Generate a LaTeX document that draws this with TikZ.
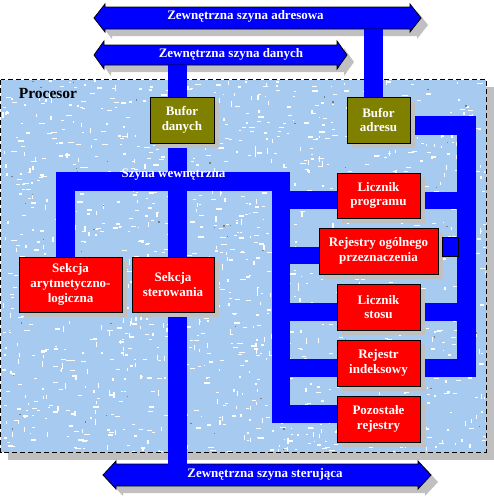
\documentclass[tikz,border=0pt]{standalone}
\usepackage{fontspec}
\setmainfont{Liberation Serif}
\usetikzlibrary{shadows}
\definecolor{busblue}{HTML}{0000FF}
\definecolor{boxred}{HTML}{FF0000}
\definecolor{olivebox}{HTML}{808000}
\definecolor{shadowgray}{HTML}{C0C0C0}
\definecolor{procbg}{HTML}{A6CAF0}
\pgfdeclarelayer{bglayer}
\pgfdeclarelayer{buslayer}
\pgfsetlayers{bglayer,buslayer,main}
\newcommand\arrowshape[5]{(#1,#3) -- (#1+#4,#3-14) -- (#1+#4,#3-#5) -- (#2-#4,#3-#5) -- (#2-#4,#3-14) -- (#2,#3) -- (#2-#4,#3+14) -- (#2-#4,#3+#5) -- (#1+#4,#3+#5) -- (#1+#4,#3+14) -- cycle}
\tikzset{
  bus/.style={draw=busblue, line width=18.5pt, line join=miter},
  busarrow/.style={fill=busblue, draw=black, line width=0.8pt, line join=miter},
  arrowshadow/.style={fill=shadowgray, shift={(7,7)}},
  bustext/.style={text=white, font=\bfseries\fontsize{13}{15}\selectfont, inner sep=0pt},
  boxbase/.style={draw=black, line width=0.7pt, text=white, align=center, inner sep=0pt,
    font=\bfseries\fontsize{13}{14.8}\selectfont,
    drop shadow={shadow xshift=5pt, shadow yshift=-5pt, fill=shadowgray, opacity=1}},
  regbox/.style={boxbase, fill=boxred},
  bufbox/.style={boxbase, fill=olivebox},
}
\begin{document}
\begin{tikzpicture}[x=1pt,y=-1pt]
\begin{pgfonlayer}{bglayer}
\useasboundingbox[fill=white] (0,0) rectangle (494,501);
% processor
\fill[shadowgray] (8,87) rectangle (494,460);
\filldraw[fill=procbg, draw=black, line width=0.8pt, dash pattern=on 5pt off 3pt] (0.5,79.5) rectangle (486,452);
\begin{scope}
\clip (1,80) rectangle (485.5,451.5);
\pgfmathsetseed{7}
\foreach \i in {1,...,1500}{
  \pgfmathsetmacro\rx{2+484*rnd}
  \pgfmathsetmacro\ry{80+372*rnd}
  \pgfmathsetmacro\rl{1.5+4.5*rnd}
  \pgfmathsetmacro\rv{rnd}
  \ifdim\rv pt<0.7pt
    \fill[white] (\rx,\ry) rectangle ++(\rl,1.3);
  \else
    \fill[white] (\rx,\ry) rectangle ++(1.3,\rl);
  \fi
}
\foreach \i in {1,...,80}{
  \pgfmathsetmacro\rx{2+484*rnd}
  \pgfmathsetmacro\ry{80+372*rnd}
  \fill[gray] (\rx,\ry) rectangle ++(1.3,1.3);
}
\end{scope}
% external bus arrows
\fill[arrowshadow] \arrowshape{94}{421}{18}{11}{11};
\fill[arrowshadow] \arrowshape{94}{347}{55}{10}{10};
\fill[arrowshadow] \arrowshape{103}{431}{475}{13}{11};
\filldraw[busarrow] \arrowshape{94}{421}{18}{11}{11};
\filldraw[busarrow] \arrowshape{94}{347}{55}{10}{10};
\filldraw[busarrow] \arrowshape{103}{431}{475}{13}{11};
\end{pgfonlayer}
\node[font=\bfseries\fontsize{15.5}{17}\selectfont, inner sep=0pt] (proclabel) at (48,93) {Procesor};
\node[bustext] (addrlabel) at (245.5,16) {Zewnętrzna szyna adresowa};
\node[bustext] (datalabel) at (231,54) {Zewnętrzna szyna danych};
\node[bustext] (sterlabel) at (265,474.5) {Zewnętrzna szyna sterująca};
% bus coordinates
\coordinate (atop) at (373.5,28.5);
\coordinate (dtop) at (177.5,64.5);
\coordinate (dbot) at (177.5,464.5);
\coordinate (rA) at (466.5,125.5);
\coordinate (rB) at (466.5,368);
\coordinate (iA) at (65.5,181.5);
\coordinate (iB) at (281,181.5);
\coordinate (iC) at (281,414);
% boxes
\node[bufbox, minimum width=64pt, minimum height=46pt] (bufd) at (182,120) {Bufor\\danych};
\node[bufbox, minimum width=63pt, minimum height=46pt] (bufa) at (378.5,120) {Bufor\\adresu};
\node[regbox, minimum width=83pt, minimum height=45pt] (lp) at (378.5,195.5) {Licznik\\programu};
\node[regbox, minimum width=119pt, minimum height=46pt] (rog) at (378.5,251) {Rejestry ogólnego\\przeznaczenia};
\node[regbox, minimum width=83pt, minimum height=46pt] (ls) at (378.5,307) {Licznik\\stosu};
\node[regbox, minimum width=83pt, minimum height=46pt] (ri) at (378.5,363) {Rejestr\\indeksowy};
\node[regbox, minimum width=83pt, minimum height=46pt] (pr) at (378.5,419) {Pozostałe\\rejestry};
\node[regbox, minimum width=103pt, minimum height=55pt] (alu) at (70.5,284.5) {Sekcja\\arytmetyczno-\\logiczna};
\node[regbox, minimum width=82pt, minimum height=55pt] (ster) at (173,284.5) {Sekcja\\sterowania};
\node[draw=black, line width=0.7pt, fill=busblue, minimum width=16pt, minimum height=19pt, inner sep=0pt] (rogstub) at (450,246.5) {};
\node[bustext] (iblabel) at (173.5,174.5) {Szyna wewnętrzna};
% buses
\begin{pgfonlayer}{buslayer}
\draw[bus] (atop) -- (atop |- bufa.north);
\draw[bus] (dtop) -- (dbot);
\draw[bus] (bufa.east |- rA) -- (rA) -- (rB) -- (ri.east |- rB);
\draw[bus, line width=17.5pt] (lp.east |- 0,200.5) -- (rA |- 0,200.5);
\draw[bus, line width=17.5pt] (ls.east |- 0,312) -- (rA |- 0,312);
\draw[bus] (alu.north -| iA) -- (iA) -- (iB) -- (iC) -- (pr.west |- iC);
\draw[bus, line width=17.5pt] (iB |- 0,200) -- (lp.west |- 0,200);
\draw[bus, line width=17.5pt] (iB |- 0,255.5) -- (rog.west |- 0,255.5);
\draw[bus, line width=17.5pt] (iB |- 0,312) -- (ls.west |- 0,312);
\draw[bus, line width=17.5pt] (iB |- 0,368) -- (ri.west |- 0,368);
\end{pgfonlayer}
\end{tikzpicture}
\end{document}
